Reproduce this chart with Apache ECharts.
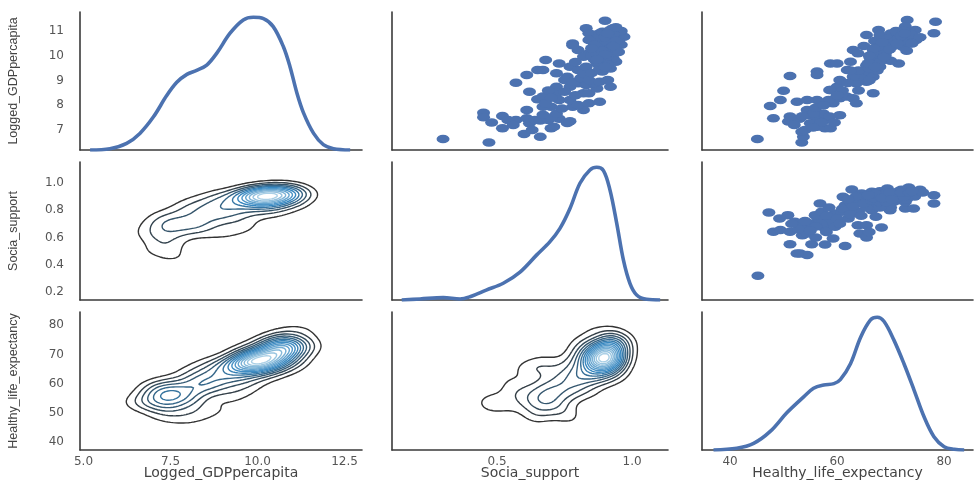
<!DOCTYPE html>
<html>
<head>
<meta charset="utf-8">
<script src="https://cdn.jsdelivr.net/npm/echarts/dist/echarts.min.js"></script>
<style>html,body{margin:0;padding:0;background:#fff;}#chart{width:975px;height:481px;}</style>
</head>
<body>
<div id="chart"></div>
<script>
// ---------------- DATA ----------------
const varNames = ['Logged_GDPpercapita', 'Socia_support', 'Healthy_life_expectancy'];

// tick labels (step + decimals) per variable
const tickSteps = [[2.5, 1], [0.5, 0.2], [20, 10]]; // [x step, y step]
const tickDecimals = [[1, 0], [1, 1], [0, 0]];

// diagonal KDE curves (value, relative density)
const gdpCurveX = [5.19, 5.76, 6.24, 6.62, 7.01, 7.39, 7.68, 7.97, 8.25, 8.54, 8.83, 9.21, 9.59, 9.88, 10.17, 10.45, 10.74, 10.93, 11.13, 11.32, 11.61, 11.89, 12.18, 12.66];
const gdpCurveY = [0, 0.01, 0.05, 0.125, 0.25, 0.41, 0.51, 0.57, 0.60, 0.64, 0.73, 0.88, 0.98, 1.0, 0.99, 0.93, 0.78, 0.63, 0.43, 0.28, 0.125, 0.04, 0.01, 0];
const sociaCurveX = [0.147, 0.215, 0.301, 0.363, 0.40, 0.46, 0.523, 0.585, 0.647, 0.696, 0.733, 0.770, 0.807, 0.844, 0.869, 0.894, 0.918, 0.943, 0.968, 0.992, 1.017, 1.054, 1.104];
const sociaCurveY = [0, 0.008, 0.018, 0.008, 0.025, 0.075, 0.126, 0.21, 0.34, 0.44, 0.54, 0.69, 0.88, 0.98, 1.0, 0.975, 0.83, 0.58, 0.30, 0.126, 0.038, 0.005, 0];
const healthCurveX = [36.9, 41.25, 44.4, 47.5, 50.6, 53.75, 55.6, 57.5, 59.4, 60.6, 62.5, 64.4, 66.25, 67.5, 68.75, 70.6, 72.5, 74.4, 76.25, 78.1, 80.0, 81.9, 83.75];
const healthCurveY = [0, 0.013, 0.05, 0.14, 0.28, 0.40, 0.465, 0.49, 0.50, 0.53, 0.65, 0.85, 0.98, 1.0, 0.97, 0.83, 0.65, 0.45, 0.25, 0.10, 0.025, 0.005, 0];

// scatter: [Socia_support, Logged_GDPpercapita]
const sociaGdpPoints = [
[0.30,6.63],[0.47,6.49],[0.45,7.70],[0.45,7.51],[0.52,7.56],[0.54,7.40],[0.52,7.07],[0.60,6.84],[0.66,6.73],[0.70,7.07],[0.71,7.13],[0.57,7.40],[0.61,7.47],[0.62,7.27],[0.61,7.81],[0.64,7.40],[0.66,7.38],[0.69,7.40],[0.73,7.45],[0.76,7.28],[0.77,7.35],[0.70,7.50],[0.67,7.62],[0.72,7.66],[0.74,7.87],[0.78,7.94],[0.82,7.81],[0.70,7.94],[0.67,7.94],[0.56,7.20],[0.63,7.00],[0.48,7.30],
[0.62,8.55],[0.65,8.24],[0.67,8.35],[0.68,8.08],[0.72,8.48],[0.72,8.75],[0.73,8.21],[0.77,8.21],[0.80,8.01],[0.84,8.08],[0.88,8.14],[0.82,8.48],[0.84,8.48],[0.92,8.75],[0.76,9.15],[0.72,9.29],[0.80,8.89],[0.77,8.75],[0.83,8.82],[0.87,8.68],[0.75,9.02],[0.57,8.91],[0.69,8.60],[0.79,8.40],[0.70,8.30],[0.75,8.55],[0.86,8.90],[0.78,8.95],[0.81,9.10],[0.84,9.02],[0.88,8.95],[0.91,9.02],
[0.61,9.22],[0.65,9.42],[0.68,9.83],[0.67,9.42],[0.73,9.69],[0.77,9.56],[0.80,9.42],[0.82,9.29],[0.89,9.36],[0.92,9.49],[0.83,9.56],[0.87,9.69],[0.89,9.96],[0.92,9.76],[0.94,9.76],[0.84,10.10],[0.88,10.23],[0.91,10.37],[0.89,10.64],[0.92,10.77],[0.94,10.91],[0.97,10.77],[0.93,11.11],[0.90,11.42],[0.83,11.11],[0.84,10.91],[0.78,10.50],[0.80,10.23],[0.82,9.96],[0.87,10.50],[0.88,10.91],[0.92,10.50],[0.94,10.37],[0.89,10.10],[0.93,10.10],[0.96,11.00],[0.89,10.97],[0.87,10.70],[0.91,10.23],[0.84,10.64],[0.78,10.43],[0.86,9.85],[0.90,9.60],[0.85,9.30],[0.79,9.75],[0.95,10.60],[0.93,10.85],[0.91,10.95],[0.86,10.35],[0.90,10.80],[0.94,10.20],[0.88,9.50],[0.96,10.45],[0.93,9.90],[0.85,10.00],
[0.90,10.15],[0.91,10.25],[0.89,10.10],[0.92,10.20],[0.90,10.35],[0.88,10.25],[0.91,10.00],[0.93,10.15],[0.89,10.40],[0.90,9.90],[0.92,10.45],[0.87,10.05],[0.91,10.55],[0.90,10.75],[0.93,10.85],[0.94,10.60],[0.88,9.75],[0.91,9.65],[0.86,10.45],[0.92,10.30],[0.89,10.20],[0.90,10.05],[0.95,10.15],[0.87,9.85],[0.93,10.40],[0.90,9.55],[0.85,10.30],[0.92,11.05],[0.91,10.90],[0.94,11.15]
];

// scatter: [Healthy_life_expectancy, Logged_GDPpercapita]
const healthGdpPoints = [
[45.1,6.63],[53.4,6.49],[53.7,6.73],[53.4,6.93],[48.1,7.47],[50.9,7.34],[51.2,7.54],[47.5,7.97],[49.4,8.21],[50.0,8.59],[52.5,8.14],[51.2,9.18],[56.25,9.36],[56.25,9.22],[58.75,9.69],[60.0,9.69],[62.5,9.76],[61.9,9.42],[54.4,7.81],[55.0,7.60],[56.25,7.47],[57.75,7.40],[55.0,7.27],[56.25,7.13],[57.75,7.07],[58.75,7.07],[57.4,7.67],[58.6,7.54],[60.5,7.60],[59.25,8.08],[60.5,8.28],[61.75,8.35],[63.0,8.28],[63.6,8.08],[58.75,8.62],[60.0,8.75],[58.4,8.21],[56.25,8.21],[54.4,8.21],[63.6,8.89],[65.5,8.95],[66.75,8.48],[64.75,9.15],[65.9,9.36],[68.0,9.56],[65.5,9.62],[66.75,9.90],[68.6,9.96],[71.5,9.69],[69.25,10.23],[72.25,10.37],[71.1,10.64],[73.5,10.70],[74.75,10.64],[72.75,10.91],[74.6,11.04],[78.1,10.91],[78.4,11.38],[73.1,11.45],[67.75,11.04],[65.5,10.84],[68.0,10.84],[68.6,10.50],[66.75,10.23],[63.0,10.23],[63.9,10.10],[68.0,10.10],[73.5,10.50],[71.5,10.64],[73.5,10.98],[72.75,11.18],[71.5,10.77],[69.25,10.37],[66.1,9.69],[66.75,9.15],[63.0,9.15],[60.5,9.02],[58.6,8.62],[55.6,7.67],[53.0,7.45],[52.0,7.20],[54.0,7.00],[56.0,7.90],[57.0,7.30],[59.5,7.30],[55.5,7.10],[53.5,7.55],[62.0,8.90],[64.0,9.40],[67.5,9.40],[66.0,9.00],[70.0,9.80],[69.0,10.00],[70.5,10.40],[72.0,10.60],[74.0,10.85],[73.0,10.20],[75.5,10.75],[70.0,10.90],[71.0,11.00],[67.0,10.60],[65.0,10.40],[62.5,9.40],[61.0,8.60],[64.0,8.60],[68.0,9.80],[72.5,11.00],[74.0,10.50],[69.5,10.70],[66.0,9.50],[60.0,8.40],[57.5,8.00],
[67.0,9.9],[67.5,10.0],[68.0,10.1],[66.5,9.8],[67.2,9.7],[68.3,9.9],[66.8,10.1],[67.8,10.2],[68.6,10.3],[69.2,10.4],[67.4,9.8],[66.2,9.9],[68.0,9.75],[69.0,10.1],[70.0,10.5],[70.8,10.6],[71.5,10.7],[72.0,10.8],[67.6,10.35],[66.9,10.3],[65.8,9.7],[68.8,9.95],[69.8,10.25],[71.2,10.5],[72.6,10.9],[67.1,9.55],[66.0,10.0],[68.4,10.55]
];

// scatter: [Healthy_life_expectancy, Socia_support]
const healthSociaPoints = [
[45.2,0.319],[53.1,0.483],[54.4,0.471],[52.5,0.483],[51.2,0.551],[55.25,0.551],[57.75,0.549],[61.5,0.537],[48.1,0.642],[49.4,0.654],[51.2,0.642],[53.5,0.617],[54.4,0.629],[56.0,0.600],[59.25,0.593],[64.25,0.629],[65.5,0.600],[63.9,0.690],[65.5,0.690],[68.3,0.673],[47.25,0.783],[49.25,0.739],[50.8,0.764],[52.1,0.715],[53.5,0.690],[55.25,0.703],[56.5,0.739],[55.9,0.764],[57.1,0.788],[58.4,0.715],[59.6,0.776],[60.9,0.788],[62.1,0.739],[57.75,0.666],[59.6,0.678],[56.8,0.849],[61.5,0.837],[62.75,0.813],[64.0,0.788],[66.5,0.800],[67.25,0.752],[69.9,0.800],[72.75,0.813],[74.3,0.813],[62.75,0.952],[64.6,0.922],[66.5,0.935],[69.0,0.922],[67.75,0.886],[70.25,0.898],[72.1,0.922],[73.4,0.966],[75.0,0.935],[73.0,0.898],[78.1,0.910],[78.1,0.849],[64.25,0.873],[62.4,0.861],[66.5,0.849],[68.9,0.849],[72.75,0.861],[71.5,0.873],[69.4,0.959],[61.1,0.898],[64.0,0.849],[54.0,0.720],[52.8,0.660],[57.0,0.700],[58.0,0.760],[60.0,0.740],[61.0,0.810],[63.0,0.830],[65.0,0.900],[66.0,0.880],[67.0,0.910],[68.0,0.940],[70.0,0.930],[71.0,0.900],[72.0,0.950],[73.5,0.920],[74.5,0.900],[75.5,0.950],[76.0,0.930],[69.0,0.880],[70.5,0.860],[67.0,0.860],[63.5,0.900],[65.5,0.820],[58.5,0.820],[56.0,0.680],[55.0,0.650],[51.5,0.700],[62.5,0.770],[60.5,0.700],[64.5,0.760],[69.5,0.910],[71.5,0.940],[73.0,0.880],[66.0,0.920],[68.5,0.900],[67.5,0.930],[65.0,0.850],[62.0,0.880],[70.0,0.820],[68.0,0.820],[58.0,0.640],[66.0,0.640],
[67.5,0.88],[68.0,0.90],[68.5,0.87],[69.0,0.89],[67.0,0.90],[68.2,0.91],[69.5,0.88],[70.0,0.90],[71.0,0.89],[66.5,0.87],[67.8,0.86],[68.8,0.92],[70.5,0.91],[69.2,0.86],[66.8,0.89],[71.5,0.91],[72.5,0.90],[67.2,0.92],[68.4,0.89],[69.8,0.93],[65.8,0.91],[70.2,0.88],[72.0,0.93],[73.5,0.93],[74.0,0.94]
];

// ---------------- LAYOUT / STYLE ----------------
const colLeft = [80, 392, 702], colWidth = [282, 276, 271];
const rowTop = [12, 162, 312], rowHeight = 138;
const xRange = [[4.9, 13.0], [0.111, 1.133], [34.75, 85.4]];
const yRange = [[6.19, 11.77], [0.141, 1.154], [37.3, 84.5]];
const densRange = [0, 1.04];
const blue = '#4c72b0';
const contourLevelCount = { 3: 11, 6: 14, 7: 15 };
const bwAdjust = 0.82;
const xTitleTop = 465;

// ---------------- HELPERS ----------------
function fmt(step, dec) {
  return function (v) {
    const k = v / step;
    return Math.abs(k - Math.round(k)) < 1e-6 ? Number(v).toFixed(dec) : '';
  };
}
function bandwidth(a) {
  const n = a.length;
  const m = a.reduce((s, v) => s + v, 0) / n;
  const sd = Math.sqrt(a.reduce((s, v) => s + (v - m) * (v - m), 0) / (n - 1));
  const s = a.slice().sort((p, q) => p - q);
  const q = p => { const i = (n - 1) * p, lo = Math.floor(i); return s[lo] + (s[Math.min(lo + 1, n - 1)] - s[lo]) * (i - lo); };
  const iqr = (q(0.75) - q(0.25)) / 1.349;
  const A = Math.min(sd, iqr > 0 ? iqr : sd);
  return bwAdjust * 1.059 * A * Math.pow(n, -0.2);
}
function kde2d(pts, xr, yr, n) {
  const bx = bandwidth(pts.map(p => p[0])), by = bandwidth(pts.map(p => p[1]));
  const gx = [], gy = [];
  for (let i = 0; i < n; i++) { gx.push(xr[0] + (xr[1] - xr[0]) * i / (n - 1)); gy.push(yr[0] + (yr[1] - yr[0]) * i / (n - 1)); }
  const z = [];
  for (let j = 0; j < n; j++) {
    const row = [];
    for (let i = 0; i < n; i++) {
      let s = 0;
      for (const p of pts) { const dx = (gx[i] - p[0]) / bx, dy = (gy[j] - p[1]) / by; s += Math.exp(-0.5 * (dx * dx + dy * dy)); }
      row.push(s);
    }
    z.push(row);
  }
  return { gx, gy, z };
}
function contourLines(g, level) {
  const { gx, gy, z } = g;
  const pts = {}, segs = [];
  function ep(key, x0, y0, v0, x1, y1, v1) {
    if (!(key in pts)) { const t = (level - v0) / (v1 - v0); pts[key] = [x0 + (x1 - x0) * t, y0 + (y1 - y0) * t]; }
    return key;
  }
  for (let j = 0; j < gy.length - 1; j++) {
    for (let i = 0; i < gx.length - 1; i++) {
      const v00 = z[j][i], v10 = z[j][i + 1], v11 = z[j + 1][i + 1], v01 = z[j + 1][i];
      const c = (v00 > level ? 1 : 0) | (v10 > level ? 2 : 0) | (v11 > level ? 4 : 0) | (v01 > level ? 8 : 0);
      if (c === 0 || c === 15) continue;
      const B = () => ep('h' + i + '_' + j, gx[i], gy[j], v00, gx[i + 1], gy[j], v10);
      const T = () => ep('h' + i + '_' + (j + 1), gx[i], gy[j + 1], v01, gx[i + 1], gy[j + 1], v11);
      const L = () => ep('v' + i + '_' + j, gx[i], gy[j], v00, gx[i], gy[j + 1], v01);
      const R = () => ep('v' + (i + 1) + '_' + j, gx[i + 1], gy[j], v10, gx[i + 1], gy[j + 1], v11);
      const center = (v00 + v10 + v11 + v01) / 4 > level;
      switch (c) {
        case 1: case 14: segs.push([L(), B()]); break;
        case 2: case 13: segs.push([B(), R()]); break;
        case 3: case 12: segs.push([L(), R()]); break;
        case 4: case 11: segs.push([R(), T()]); break;
        case 6: case 9: segs.push([B(), T()]); break;
        case 7: case 8: segs.push([L(), T()]); break;
        case 5: if (center) { segs.push([B(), R()]); segs.push([L(), T()]); } else { segs.push([L(), B()]); segs.push([R(), T()]); } break;
        case 10: if (center) { segs.push([L(), B()]); segs.push([R(), T()]); } else { segs.push([B(), R()]); segs.push([L(), T()]); } break;
      }
    }
  }
  const adj = {};
  segs.forEach((s, k) => { (adj[s[0]] = adj[s[0]] || []).push(k); (adj[s[1]] = adj[s[1]] || []).push(k); });
  const used = new Array(segs.length).fill(false), lines = [];
  const extend = arr => {
    while (true) {
      const end = arr[arr.length - 1];
      const nb = (adj[end] || []).find(m => !used[m]);
      if (nb === undefined) break;
      used[nb] = true;
      const s = segs[nb];
      arr.push(s[0] === end ? s[1] : s[0]);
    }
  };
  for (let k = 0; k < segs.length; k++) {
    if (used[k]) continue;
    used[k] = true;
    const chain = [segs[k][0], segs[k][1]];
    extend(chain); chain.reverse(); extend(chain);
    lines.push(chain.map(key => pts[key]));
  }
  return lines;
}
function hex2rgb(h) { return [1, 3, 5].map(i => parseInt(h.substr(i, 2), 16)); }
const cmapStops = ['#333333', '#3787c0', '#abd0e6'];
function cmap(t) {
  const seg = t * (cmapStops.length - 1);
  const i = Math.min(Math.floor(seg), cmapStops.length - 2), f = seg - i;
  const a = hex2rgb(cmapStops[i]), b = hex2rgb(cmapStops[i + 1]);
  return 'rgb(' + a.map((v, k) => Math.round(v + (b[k] - v) * f)).join(',') + ')';
}

// ---------------- OPTION ----------------
const grids = [], xAxes = [], yAxes = [], series = [], titles = [];
const axisLineStyle = { color: '#3a3a3a', width: 1.6 };
const tickFont = { color: '#555', fontSize: 12, fontFamily: 'DejaVu Sans' };
for (let r = 0; r < 3; r++) {
  for (let c = 0; c < 3; c++) {
    const g = r * 3 + c;
    grids.push({ left: colLeft[c], top: rowTop[r], width: colWidth[c], height: rowHeight, containLabel: false, outerBoundsMode: 'none' });
    xAxes.push({
      type: 'value', gridIndex: g, min: xRange[c][0], max: xRange[c][1],
      minInterval: tickSteps[c][0], maxInterval: tickSteps[c][0],
      axisLine: { show: true, onZero: false, lineStyle: axisLineStyle },
      axisTick: { show: false }, splitLine: { show: false },
      axisLabel: Object.assign({ show: r === 2, margin: 6, formatter: fmt(tickSteps[c][0], tickDecimals[c][0]) }, tickFont)
    });
    const isDiag = r === c && r > 0;
    yAxes.push({
      type: 'value', gridIndex: g,
      min: isDiag ? densRange[0] : yRange[r][0], max: isDiag ? densRange[1] : yRange[r][1],
      minInterval: isDiag ? undefined : tickSteps[r][1], maxInterval: isDiag ? undefined : tickSteps[r][1],
      axisLine: { show: true, onZero: false, lineStyle: axisLineStyle },
      axisTick: { show: false }, splitLine: { show: false },
      axisLabel: Object.assign({ show: c === 0, margin: 16, formatter: fmt(tickSteps[r][1], tickDecimals[r][1]) }, tickFont),
      name: c === 0 ? varNames[r] : '', nameLocation: 'middle', nameGap: 60,
      nameTextStyle: { color: '#444', fontSize: 12.5, fontFamily: 'Liberation Sans' }
    });
  }
  // x-axis titles under the bottom row
  titles.push({
    text: varNames[r], left: colLeft[r] + colWidth[r] / 2, top: xTitleTop, textAlign: 'center', padding: 0,
    textStyle: { color: '#444', fontSize: 14, fontWeight: 'normal', fontFamily: 'DejaVu Sans', lineHeight: 16 }
  });
}
// hidden density axis for the top-left diagonal panel
yAxes.push({ type: 'value', gridIndex: 0, min: densRange[0], max: densRange[1], show: false });

function curve(xs, ys, g, yi) {
  series.push({
    type: 'line', xAxisIndex: g, yAxisIndex: yi, data: xs.map((x, i) => [x, ys[i]]),
    smooth: 0.35, showSymbol: false, silent: true,
    lineStyle: { color: blue, width: 3.6 }
  });
}
curve(gdpCurveX, gdpCurveY, 0, 9);
curve(sociaCurveX, sociaCurveY, 4, 4);
curve(healthCurveX, healthCurveY, 8, 8);

function scatter(pts, g) {
  series.push({
    type: 'scatter', xAxisIndex: g, yAxisIndex: g, data: pts, silent: true,
    symbol: 'circle', symbolSize: [13, 8.5], itemStyle: { color: blue, opacity: 1 }
  });
}
scatter(sociaGdpPoints, 1);
scatter(healthGdpPoints, 2);
scatter(healthSociaPoints, 5);

function contour(pts, g, r, c) {
  const swapped = pts.map(p => [p[1], p[0]]);
  const grid = kde2d(swapped, xRange[c], yRange[r], 110);
  let zmax = 0;
  grid.z.forEach(row => row.forEach(v => { if (v > zmax) zmax = v; }));
  const N = contourLevelCount[g];
  const data = [];
  for (let k = 1; k <= N; k++) {
    const level = zmax * k / (N + 1);
    const col = cmap((k - 1) / (N - 1));
    contourLines(grid, level).forEach(line => {
      if (line.length > 2) data.push({ coords: line, lineStyle: { color: col } });
    });
  }
  series.push({
    type: 'lines', coordinateSystem: 'cartesian2d', xAxisIndex: g, yAxisIndex: g,
    polyline: true, silent: true, large: false, data: data,
    lineStyle: { width: 1.4, opacity: 1 }
  });
}
contour(sociaGdpPoints, 3, 1, 0);
contour(healthGdpPoints, 6, 2, 0);
contour(healthSociaPoints, 7, 2, 1);

const chart = echarts.init(document.getElementById('chart'), null, { renderer: 'canvas' });
chart.setOption({
  backgroundColor: '#ffffff',
  animation: false,
  title: titles,
  grid: grids, xAxis: xAxes, yAxis: yAxes, series: series
});
</script>
</body>
</html>
